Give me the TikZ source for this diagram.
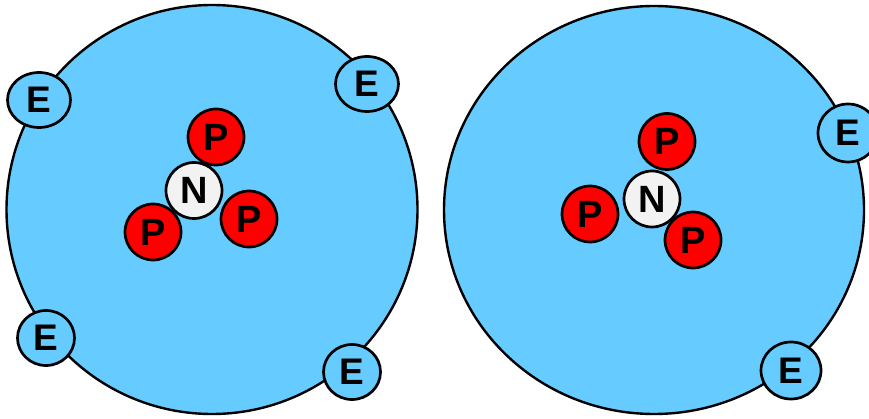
\documentclass[tikz,border=0pt]{standalone}
\usepackage{fontspec}
\setmainfont{Liberation Sans}
\usetikzlibrary{shapes.geometric}
\definecolor{shellblue}{HTML}{66CCFF}
\definecolor{protonred}{HTML}{FF0000}
\definecolor{neutrongray}{HTML}{F2F2F2}
\tikzset{
  atomshell/.style={ellipse, draw=black, line width=2.4pt, fill=shellblue, inner sep=0pt},
  electron/.style={ellipse, draw=black, line width=2.7pt, fill=shellblue, inner sep=0pt,
    font=\bfseries\fontsize{37}{37}\selectfont},
  proton/.style={circle, draw=black, line width=2.7pt, fill=protonred, inner sep=0pt,
    minimum size=56pt, font=\bfseries\fontsize{38}{38}\selectfont},
  neutron/.style={circle, draw=black, line width=2.7pt, fill=neutrongray, inner sep=0pt,
    minimum size=56pt, font=\bfseries\fontsize{38}{38}\selectfont}
}
\begin{document}
\begin{tikzpicture}[x=1pt,y=-1pt]
\useasboundingbox (0,0) rectangle (869,419);
% left atom
\node[atomshell, minimum width=411pt, minimum height=409pt] (atomL) at (212,209.5) {};
\node[electron, minimum width=63pt, minimum height=55pt] (eL1) at (39,100) {E};
\node[electron, minimum width=63pt, minimum height=55pt] (eL2) at (367,84) {E};
\node[electron, minimum width=57pt, minimum height=55pt] (eL3) at (46,338) {E};
\node[electron, minimum width=57pt, minimum height=55pt] (eL4) at (352,372) {E};
\node[proton] (pL1) at (216,137) {P};
\node[proton] (pL2) at (249,219) {P};
\node[proton] (pL3) at (153,232) {P};
\node[neutron] (nL) at (194,190.5) {N};
% right atom
\node[atomshell, minimum width=420pt, minimum height=408pt] (atomR) at (654,210) {};
\node[electron, minimum width=60pt, minimum height=58pt] (eR1) at (848,133) {E};
\node[electron, minimum width=60pt, minimum height=57pt] (eR2) at (791,370.5) {E};
\node[proton] (pR1) at (667,141.5) {P};
\node[proton] (pR2) at (590,214) {P};
\node[proton] (pR3) at (693,240) {P};
\node[neutron] (nR) at (652,199) {N};
\end{tikzpicture}
\end{document}
